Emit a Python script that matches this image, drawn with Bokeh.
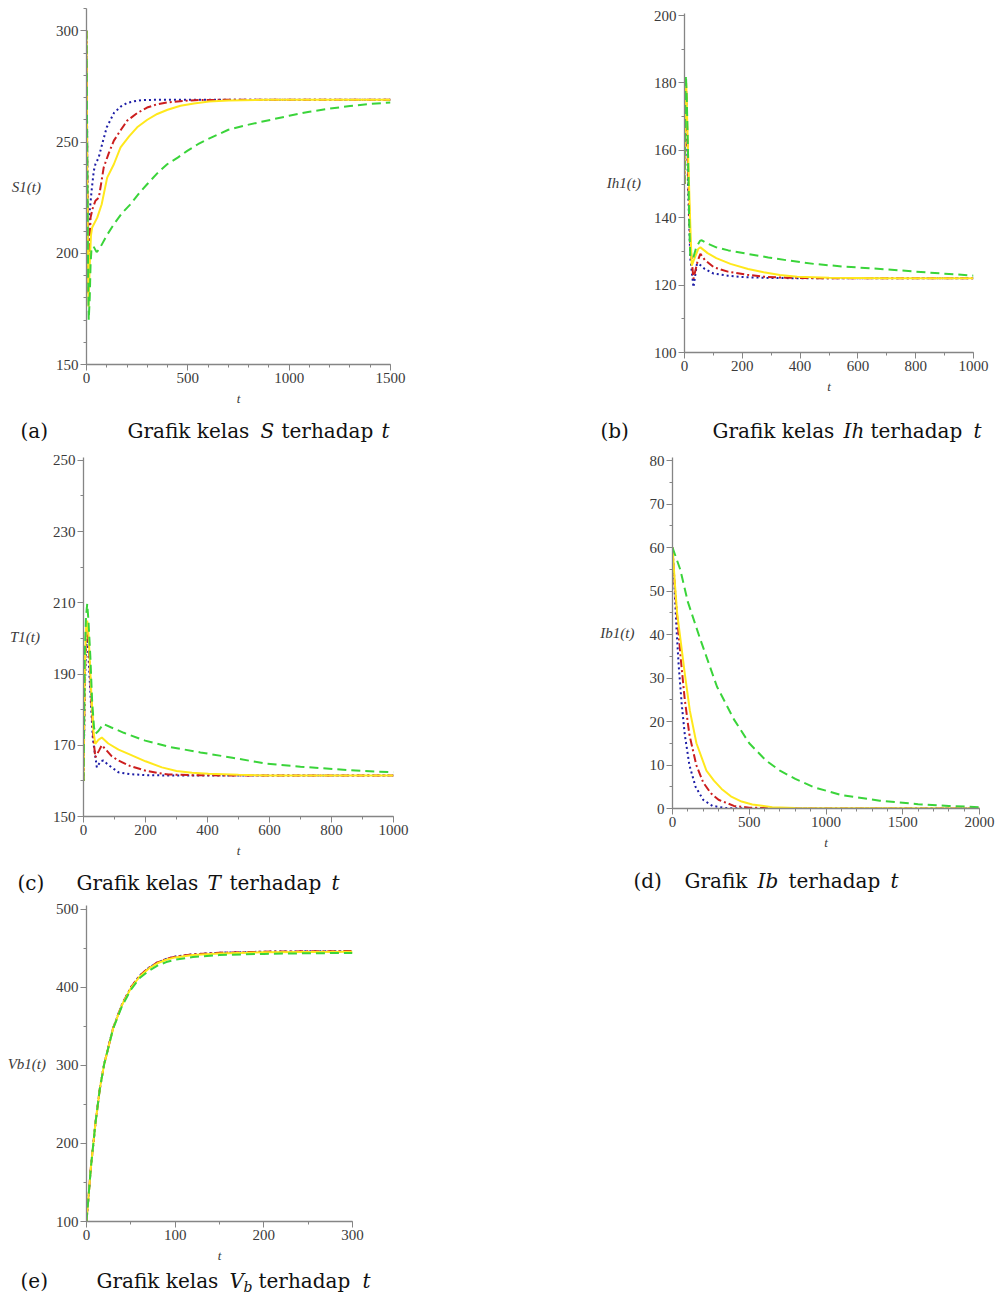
from bokeh.plotting import figure
from bokeh.layouts import column, row
from bokeh.models import Range1d, SingleIntervalTicker, FixedTicker, Label, LinearAxis
from bokeh.embed import file_html
from bokeh.resources import INLINE

# ---------------- data ----------------
# (a) S1(t)
sa_blue_t = [0, 4, 8, 12, 16, 25, 36, 44, 60, 80, 100, 135, 170, 200, 235, 270, 350, 500, 800, 1500]
sa_blue_v = [300, 240, 190, 200, 219, 228, 237, 240, 243, 250, 256.6, 263, 266, 267.5, 268.3, 268.8, 269, 269, 269, 269]
sa_red_t = [0, 4, 9, 14, 20, 30, 44, 61, 85, 110, 135, 170, 201, 250, 299, 350, 398, 480, 560, 800, 1500]
sa_red_v = [300, 235, 182, 200, 216, 220, 223.6, 225, 238.6, 245, 250.6, 255.5, 259.6, 263, 265.5, 267, 267.8, 268.5, 268.9, 269, 269]
sa_yel_t = [0, 4, 10, 16, 22, 28, 53, 75, 102, 135, 168, 210, 250, 300, 349, 400, 464, 530, 604, 700, 900, 1500]
sa_yel_v = [300, 230, 176, 195, 208, 211.6, 216, 222, 234, 240, 247.6, 252.5, 256.6, 260, 262.6, 264.5, 266.3, 267.3, 268.2, 268.7, 269, 269]
sa_grn_t = [0, 4, 8, 11, 16, 20, 25, 35, 50, 60, 70, 100, 135, 175, 217, 260, 299, 350, 398, 450, 497, 550, 604, 700, 800, 900, 1000, 1100, 1200, 1300, 1400, 1500]
sa_grn_v = [300, 240, 190, 170, 180, 195, 202.5, 203, 200.5, 201.5, 203, 208, 213, 218, 222, 227, 231, 236, 240, 243, 246, 249, 251.5, 255.5, 257.8, 259.8, 261.8, 263.6, 265, 266.2, 267.1, 267.8]

# (b) Ih1(t)
ib_blue_t = [0, 3, 6, 12, 20, 31, 43, 50, 70, 101, 150, 193, 300, 500, 1000]
ib_blue_v = [150, 170, 176, 150, 128, 119.4, 126.3, 126.3, 124.8, 123.4, 122.8, 122.4, 122.1, 122, 122]
ib_red_t = [0, 3, 6, 12, 20, 31, 45, 55, 70, 101, 150, 217, 274, 350, 500, 1000]
ib_red_v = [150, 172, 178, 155, 132, 121.9, 127, 129.3, 127.5, 125.3, 124, 123.1, 122.5, 122.2, 122, 122]
ib_yel_t = [0, 3, 6, 12, 20, 25, 35, 48, 55, 80, 110, 159, 220, 274, 330, 390, 500, 700, 1000]
ib_yel_v = [150, 175, 180, 160, 138, 125.8, 128, 130.8, 131.2, 129.5, 128, 126.3, 124.8, 123.8, 123, 122.5, 122.2, 122, 122]
ib_grn_t = [0, 3, 5, 8, 12, 16, 20, 30, 40, 54, 60, 80, 110, 152, 217, 290, 360, 447, 550, 678, 800, 900, 1000]
ib_grn_v = [150, 176, 182.2, 175, 160, 140, 128.3, 128, 131, 133.2, 133.3, 132.3, 131.2, 130.3, 129.3, 128.2, 127.3, 126.3, 125.5, 124.8, 124, 123.4, 122.8]

# (c) T1(t)
tc_blue_t = [0, 4, 8, 12, 16, 22, 30, 43, 55, 64, 80, 113, 150, 200, 300, 1000]
tc_blue_v = [160, 185, 197, 200, 195, 185, 172, 163.8, 165.5, 165.7, 164.5, 162.4, 161.9, 161.6, 161.5, 161.5]
tc_red_t = [0, 4, 8, 12, 17, 25, 32, 38, 50, 59, 75, 90, 113, 150, 199, 240, 274, 350, 500, 1000]
tc_red_v = [160, 188, 200, 203, 198, 183, 172, 166.6, 168.5, 170, 168.5, 167, 165.7, 164.2, 162.9, 162.2, 161.8, 161.6, 161.5, 161.5]
tc_yel_t = [0, 4, 8, 12, 17, 25, 32, 38, 48, 59, 80, 113, 145, 200, 253, 300, 350, 403, 500, 600, 1000]
tc_yel_v = [160, 190, 203, 205, 200, 185, 174, 170.4, 171.5, 172.2, 170.5, 168.8, 167.6, 165.5, 163.8, 162.8, 162.3, 162, 161.7, 161.5, 161.5]
tc_grn_t = [0, 4, 8, 12, 16, 22, 28, 34, 38, 48, 64, 90, 130, 199, 280, 377, 480, 592, 700, 807, 900, 1000]
tc_grn_v = [160, 195, 206, 209.7, 205, 195, 182, 175, 173.2, 174, 176, 175, 173.5, 171.3, 169.5, 168, 166.5, 164.8, 164, 163.3, 162.8, 162.4]

# (d) Ib1(t)
bd_blue_t = [0, 10, 25, 40, 60, 80, 110, 150, 200, 260, 350, 500, 2000]
bd_blue_v = [60, 53, 42, 33, 24, 17, 10, 5, 2, 0.6, 0.1, 0, 0]
bd_red_t = [0, 15, 35, 55, 80, 110, 155, 200, 250, 300, 400, 500, 700, 2000]
bd_red_v = [60, 51, 42, 34, 25, 17, 10, 6, 3.5, 2, 0.6, 0.2, 0, 0]
bd_yel_t = [0, 15, 30, 48, 80, 113, 156, 221, 270, 320, 380, 450, 520, 650, 800, 2000]
bd_yel_v = [60, 52, 45, 40, 31, 22.5, 15, 8.7, 6.4, 4.5, 2.8, 1.6, 0.9, 0.3, 0.1, 0]
bd_grn_t = [0, 50, 100, 180, 290, 400, 500, 610, 700, 800, 920, 1100, 1350, 1600, 1800, 2000]
bd_grn_v = [60, 55, 47.5, 39, 28, 20.5, 15, 11, 8.7, 6.8, 4.9, 3.1, 1.8, 1, 0.6, 0.3]

# (e) Vb1(t)
ve_t = [0, 5, 10, 15, 20, 30, 40, 50, 60, 70, 80, 90, 100, 120, 150, 200, 250, 300]
ve_blue_v = [100, 170, 225, 270, 302, 348, 378, 400, 415, 425, 432, 436.5, 439.5, 442.5, 444.5, 445.8, 446.3, 446.6]
ve_red_v = [100, 170, 225, 270, 302, 348, 378, 400, 415, 425, 432, 436.5, 439.5, 442.5, 444.5, 445.8, 446.3, 446.6]
ve_yel_v = [100, 170, 225, 270, 302, 347.5, 377.5, 399, 414, 424, 431, 435.5, 438.5, 441.5, 443.5, 445, 445.5, 445.8]
ve_grn_v = [100, 170, 225, 270, 302, 347, 376, 397, 412, 421, 428, 432.5, 435.5, 439, 441.5, 443, 443.8, 444.2]

# tick labels of panel (c)
tc_major_ticks = [150, 170, 190, 210, 230, 250]
tc_minor_ticks = [150, 160, 170, 180, 190, 200, 210, 220, 230, 240, 250]

# axis titles
panel_a_y_label = "S1(t)"
panel_b_y_label = "Ih1(t)"
panel_c_y_label = "T1(t)"
panel_d_y_label = "Ib1(t)"
panel_e_y_label = "Vb1(t)"

# ---------------- styling ----------------
COL = {"blue": "#1c1ca6", "red": "#cc1e1e", "yellow": "#ffe81c", "green": "#3ad43a"}
DASH = {"blue": "2 3", "red": "8 3 2 3", "yellow": "solid", "green": "9 5"}
AX = "#858585"
TXT = "#3a3a3a"
SERIF = "Liberation Serif"
CAP_FONT = "DejaVu Serif"
CAP_SIZE = "20px"
HAS_ORIENT = "axis_label_orientation" in LinearAxis.properties()


def make_panel(width, height, left, top, fw, fh, xr, yr, xint, xminor, yint, yminor, ylab, ystand):
    p = figure(width=width, height=height, output_backend="svg", toolbar_location=None,
               x_range=Range1d(*xr), y_range=Range1d(*yr),
               min_border_left=left, min_border_top=top,
               min_border_right=width - left - fw, min_border_bottom=height - top - fh)
    p.grid.visible = False
    p.outline_line_color = None
    p.background_fill_color = "white"
    p.border_fill_color = "white"
    p.xaxis.ticker = SingleIntervalTicker(interval=xint, num_minor_ticks=xminor)
    if yint is not None:
        p.yaxis.ticker = SingleIntervalTicker(interval=yint, num_minor_ticks=yminor)
    for ax in p.axis:
        ax.axis_line_color = AX
        ax.axis_line_width = 1.3
        ax.major_tick_line_color = AX
        ax.minor_tick_line_color = AX
        ax.major_tick_out = 6
        ax.major_tick_in = 0
        ax.minor_tick_out = 3
        ax.minor_tick_in = 0
        ax.major_label_text_font = SERIF
        ax.major_label_text_font_size = "15px"
        ax.major_label_text_color = TXT
        ax.major_label_standoff = 2
        ax.axis_label_text_font = SERIF
        ax.axis_label_text_font_style = "italic"
        ax.axis_label_text_color = TXT
    p.xaxis.axis_label = "t"
    p.xaxis.axis_label_text_font_size = "13px"
    p.xaxis.axis_label_standoff = 5
    p.yaxis.axis_label = ylab
    p.yaxis.axis_label_text_font_size = "15px"
    p.yaxis.axis_label_standoff = ystand
    if HAS_ORIENT:
        p.yaxis.axis_label_orientation = "horizontal"
    return p


def draw(p, t, v, key):
    p.line(t, v, line_color=COL[key], line_width=2, line_dash=DASH[key])


def caption_strip(width, height, parts):
    c = figure(width=width, height=height, output_backend="svg", toolbar_location=None,
               x_range=Range1d(0, width), y_range=Range1d(height, 0),
               x_axis_location=None, y_axis_location=None,
               min_border_left=0, min_border_right=0, min_border_top=0, min_border_bottom=0)
    c.grid.visible = False
    c.outline_line_color = None
    for txt, x, y, style, size in parts:
        c.add_layout(Label(x=x, y=y, text=txt, text_font=CAP_FONT, text_font_size=size,
                           text_font_style=style, text_color="#111111",
                           text_align="left", text_baseline="middle"))
    return c


# ---- row 1 : panels (a) and (b)   (page rows 0..414, caption strip 414..450)
pa = make_panel(580, 414, 86, 8, 304, 356, (0, 1500), (150, 310), 500, 5, 50, 5, panel_a_y_label, 12)
for t, v, k in [(sa_blue_t, sa_blue_v, "blue"), (sa_red_t, sa_red_v, "red"),
                (sa_yel_t, sa_yel_v, "yellow"), (sa_grn_t, sa_grn_v, "green")]:
    draw(pa, t, v, k)

pb = make_panel(415, 414, 104, 13, 289, 339, (0, 1000), (100, 200.6), 200, 2, 20, 2, panel_b_y_label, 10)
for t, v, k in [(ib_blue_t, ib_blue_v, "blue"), (ib_red_t, ib_red_v, "red"),
                (ib_yel_t, ib_yel_v, "yellow"), (ib_grn_t, ib_grn_v, "green")]:
    draw(pb, t, v, k)

cap1 = caption_strip(995, 36, [
    ("(a)", 20, 16, "normal", CAP_SIZE), ("Grafik kelas", 127, 16, "normal", CAP_SIZE),
    ("S", 260, 16, "italic", CAP_SIZE), ("terhadap", 281, 16, "normal", CAP_SIZE), ("t", 381, 16, "italic", CAP_SIZE),
    ("(b)", 600, 16, "normal", CAP_SIZE), ("Grafik kelas", 712, 16, "normal", CAP_SIZE),
    ("Ih", 843, 16, "italic", CAP_SIZE), ("terhadap", 870, 16, "normal", CAP_SIZE), ("t", 973, 16, "italic", CAP_SIZE)])

# ---- row 2 : panels (c) and (d)   (page rows 450..866, caption strip 866..900)
pc = make_panel(580, 416, 83, 7, 310, 359, (0, 1000), (150, 250.8), 200, 2, None, None, panel_c_y_label, 10)
pc.yaxis.ticker = FixedTicker(ticks=tc_major_ticks, minor_ticks=tc_minor_ticks)
for t, v, k in [(tc_blue_t, tc_blue_v, "blue"), (tc_red_t, tc_red_v, "red"),
                (tc_yel_t, tc_yel_v, "yellow"), (tc_grn_t, tc_grn_v, "green")]:
    draw(pc, t, v, k)

pd_ = make_panel(415, 416, 92, 7, 307, 351, (0, 2000), (0, 80.7), 500, 5, 10, 2, panel_d_y_label, 12)
for t, v, k in [(bd_blue_t, bd_blue_v, "blue"), (bd_red_t, bd_red_v, "red"),
                (bd_yel_t, bd_yel_v, "yellow"), (bd_grn_t, bd_grn_v, "green")]:
    draw(pd_, t, v, k)

cap2 = caption_strip(995, 34, [
    ("(c)", 17, 16, "normal", CAP_SIZE), ("Grafik kelas", 76, 16, "normal", CAP_SIZE),
    ("T", 207, 16, "italic", CAP_SIZE), ("terhadap", 229, 16, "normal", CAP_SIZE), ("t", 331, 16, "italic", CAP_SIZE),
    ("(d)", 633, 14, "normal", CAP_SIZE), ("Grafik", 684, 14, "normal", CAP_SIZE), ("Ib", 757, 14, "italic", CAP_SIZE),
    ("terhadap", 788, 14, "normal", CAP_SIZE), ("t", 890, 14, "italic", CAP_SIZE)])

# ---- row 3 : panel (e)   (page rows 900..1266, caption strip 1266..1297)
pe = make_panel(580, 366, 86, 5, 266, 316, (0, 300), (100, 505), 100, 2, 100, 2, panel_e_y_label, 7)
for v, k in [(ve_blue_v, "blue"), (ve_red_v, "red"), (ve_yel_v, "yellow"), (ve_grn_v, "green")]:
    draw(pe, ve_t, v, k)

cap3 = caption_strip(995, 31, [
    ("(e)", 20, 14, "normal", CAP_SIZE), ("Grafik kelas", 96, 14, "normal", CAP_SIZE),
    ("V", 229, 14, "italic", CAP_SIZE), ("b", 243, 20, "italic", "14px"),
    ("terhadap", 258, 14, "normal", CAP_SIZE), ("t", 362, 14, "italic", CAP_SIZE)])

layout = column(
    row(column(pa), column(pb)),
    column(cap1),
    row(column(pc), column(pd_)),
    column(cap2),
    column(pe),
    column(cap3),
)
open("out.html", "w").write(file_html(layout, INLINE))
